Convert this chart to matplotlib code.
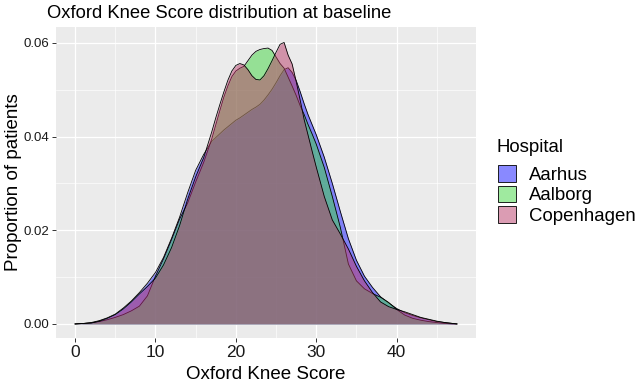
import matplotlib
matplotlib.use("Agg")
import matplotlib.pyplot as plt
from matplotlib.patches import Patch

plt.rcParams["font.family"] = ["Liberation Sans", "DejaVu Sans"]

# Density curves (x = Oxford Knee Score, y = proportion)
hospitals = ["Aarhus", "Aalborg", "Copenhagen"]
fills = ["#1515ff", "#41d741", "#b93a68"]

score = [0, 1, 2, 3, 4, 5, 6, 7, 8, 9, 10, 11, 12, 13, 14, 15, 16, 17,
         17.5, 18, 18.5, 19, 19.5, 20, 20.5, 21, 21.5, 22, 22.5, 23, 23.5,
         24, 24.5, 25, 25.5, 26, 26.5, 27, 27.5, 28, 28.5, 29, 29.5,
         30, 31, 32, 33, 34, 35, 36, 37, 38, 39, 40, 41, 42, 43, 44, 45,
         46, 47, 47.5]

aarhus = [0.0000, 0.0001, 0.0003, 0.0007, 0.0013, 0.0021, 0.0034, 0.0049,
          0.0067, 0.0087, 0.0110, 0.0142, 0.0183, 0.0228, 0.0280, 0.0328,
          0.0362, 0.0390,
          0.0398, 0.0406, 0.0414, 0.0421, 0.0428, 0.0435, 0.0440, 0.0446,
          0.0452, 0.0458, 0.0463, 0.0469, 0.0478, 0.0489, 0.0501, 0.0515,
          0.0530, 0.0543, 0.0547, 0.0537, 0.0520, 0.0496, 0.0470, 0.0446,
          0.0425,
          0.0404, 0.0356, 0.0300, 0.0240, 0.0182, 0.0136, 0.0102, 0.0078,
          0.0058, 0.0045, 0.0033, 0.0024, 0.0018, 0.0013, 0.0009, 0.0005,
          0.0003, 0.0001, 0.0000]

aalborg = [0.0000, 0.0001, 0.0002, 0.0005, 0.0009, 0.0014, 0.0020, 0.0028,
           0.0038, 0.0060, 0.0102, 0.0139, 0.0180, 0.0224, 0.0258, 0.0303,
           0.0345, 0.0395,
           0.0425, 0.0455, 0.0484, 0.0508, 0.0528, 0.0540, 0.0546, 0.0550,
           0.0562, 0.0574, 0.0582, 0.0586, 0.0588, 0.0589, 0.0584, 0.0570,
           0.0556, 0.0546, 0.0527, 0.0508, 0.0488, 0.0466, 0.0447, 0.0425,
           0.0405,
           0.0384, 0.0334, 0.0272, 0.0206, 0.0128, 0.0092, 0.0075, 0.0065,
           0.0057, 0.0046, 0.0031, 0.0019, 0.0012, 0.0008, 0.0005, 0.0003,
           0.0001, 0.0000, 0.0000]

copenhagen = [0.0000, 0.0001, 0.0002, 0.0006, 0.0012, 0.0020, 0.0032, 0.0047,
              0.0064, 0.0080, 0.0098, 0.0126, 0.0163, 0.0210, 0.0266, 0.0314,
              0.0355, 0.0410,
              0.0440, 0.0468, 0.0495, 0.0520, 0.0540, 0.0552, 0.0556, 0.0553,
              0.0543, 0.0530, 0.0522, 0.0521, 0.0530, 0.0545, 0.0562, 0.0580,
              0.0597, 0.0601, 0.0574, 0.0555, 0.0518, 0.0478, 0.0436, 0.0402,
              0.0368,
              0.0335, 0.0272, 0.0222, 0.0192, 0.0160, 0.0123, 0.0092, 0.0067,
              0.0047, 0.0037, 0.0031, 0.0026, 0.0020, 0.0014, 0.0010, 0.0006,
              0.0003, 0.0001, 0.0000]

xticks = [0, 10, 20, 30, 40]
yticks = [0.00, 0.02, 0.04, 0.06]

W, H = 637, 382
fig = plt.figure(figsize=(W / 100, H / 100), dpi=100)
ax = fig.add_axes([56 / W, 1 - 338 / H, 420 / W, 311 / H])
ax.set_facecolor("#ebebeb")

for dens, col in zip([aarhus, aalborg, copenhagen], fills):
    ax.fill_between(score, dens, color=col, alpha=0.5, lw=0, zorder=2)
    ax.plot(score, dens, color="black", lw=0.6, zorder=2)

ax.set_xlim(-2.375, 49.875)
ax.set_ylim(-0.003, 0.0634)
ax.set_xticks(xticks)
ax.set_xticks([5, 15, 25, 35, 45], minor=True)
ax.set_yticks(yticks)
ax.set_yticks([0.01, 0.03, 0.05], minor=True)
ax.set_yticklabels([f"{v:.2f}" for v in yticks])
ax.grid(which="major", color="white", lw=0.9)
ax.grid(which="minor", color="white", lw=0.45)
ax.set_axisbelow(True)
for s in ax.spines.values():
    s.set_visible(False)
ax.tick_params(which="minor", length=0)
ax.tick_params(which="major", length=3, width=0.7, color="#333333")
ax.tick_params(axis="x", labelsize=12.5, labelcolor="#1a1a1a", pad=2)
ax.tick_params(axis="y", labelsize=9.5, labelcolor="#1a1a1a", pad=2)

fig.text(47 / W, 1 - 17.5 / H, "Oxford Knee Score distribution at baseline",
         fontsize=13.2, ha="left", va="baseline")
fig.text(266 / W, 1 - 379 / H, "Oxford Knee Score", fontsize=13.5,
         ha="center", va="baseline")
fig.text(13.5 / W, 1 - 182 / H, "Proportion of patients", fontsize=13.5,
         rotation=90, ha="center", va="center")

# legend: title as separate text so the gap above the keys matches
fig.text(497 / W, 1 - 152 / H, "Hospital", fontsize=13.4,
         ha="left", va="baseline")
handles = [Patch(facecolor=(*matplotlib.colors.to_rgb(c), 0.5),
                 edgecolor="black", lw=0.6) for c in fills]
fig.legend(handles, hospitals, loc="upper left",
           bbox_to_anchor=(498 / W, 1 - 165 / H), frameon=False,
           fontsize=13.4, handlelength=0.95, handleheight=1.0,
           labelspacing=0.1, handletextpad=0.7,
           borderpad=0, borderaxespad=0)

fig.savefig("out.png", dpi=100)
